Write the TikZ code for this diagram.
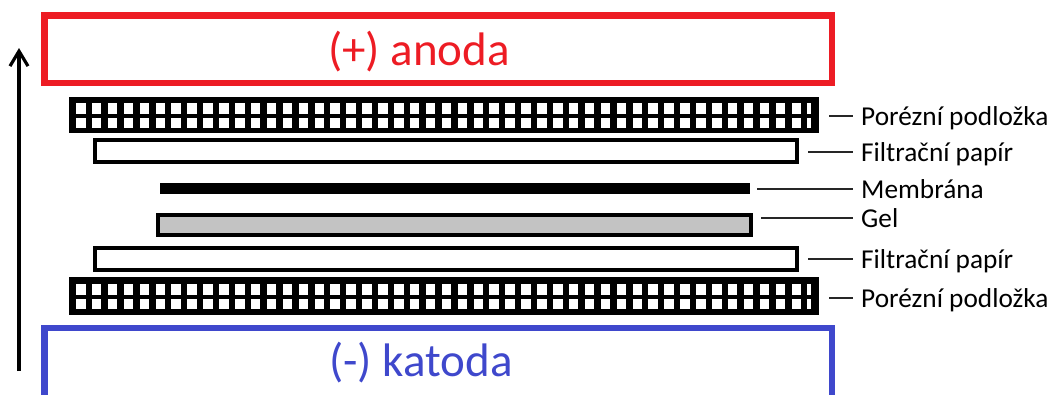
\documentclass[tikz,border=0pt]{standalone}
\usepackage{fontspec}
\setmainfont{Carlito}
\usetikzlibrary{arrows.meta}
\definecolor{anodered}{HTML}{ED1C24}
\definecolor{katblue}{HTML}{3F48CC}
\definecolor{gelgray}{HTML}{C3C3C3}
\begin{document}
\begin{tikzpicture}[x=1pt,y=-1pt,
  electrode/.style={draw, line width=6.5pt, inner sep=0pt, minimum width=787.5pt},
  bigtext/.style={font=\fontsize{47}{52}\selectfont, inner sep=0pt, anchor=base},
  porous/.style={fill=black, inner sep=0pt, minimum width=750pt},
  paper/.style={draw=black, fill=white, line width=4pt, inner sep=0pt, minimum width=702pt, minimum height=22pt},
  membrane/.style={fill=black, inner sep=0pt, minimum width=590pt, minimum height=11pt},
  gelbox/.style={draw=black, fill=gelgray, line width=4pt, inner sep=0pt, minimum width=593pt, minimum height=20pt},
  lbl/.style={font=\fontsize{27.3}{31}\selectfont, anchor=base west, inner xsep=8pt, inner ysep=0pt},
  leader/.style={line width=1.5pt, draw=black!85},
  hole/.style={fill=white}
]
\useasboundingbox (0,0) rectangle (1056,394);
\clip (0,0) rectangle (1056,394);

% electrodes
\node[electrode, draw=anodered, minimum height=67.5pt] (anode) at (438.25,49.25) {};
\node[bigtext, text=anodered] (atext) at (419,65) {(+) anoda};
\node[electrode, draw=katblue, minimum height=92pt] (kathode) at (438.25,374) {};
\node[bigtext, text=katblue] (ktext) at (421,376) {(-) katoda};

% arrow
\coordinate (arrS) at (19,371);
\coordinate (arrE) at (19,48);
\draw[line width=3.2pt, -{Straight Barb[length=15pt,width=18pt]}] (arrS) -- (arrE);

% porous supports
\node[porous, minimum height=36pt] (ptop) at (444,115) {};
\foreach \k in {0,...,45} {
  \fill[hole] ({76+15.9*\k},103) rectangle +(9.5,11);
  \fill[hole] ({76+15.9*\k},118) rectangle +(9.5,10);
}
\fill[hole] (807.4,103) rectangle (811,114);
\fill[hole] (807.4,118) rectangle (811,128);

\node[porous, minimum height=38pt] (pbot) at (444,296) {};
\foreach \k in {0,...,45} {
  \fill[hole] ({76+15.9*\k},284) rectangle +(9.5,11);
  \fill[hole] ({76+15.9*\k},299) rectangle +(9.5,10);
}
\fill[hole] (807.4,284) rectangle (811,295);
\fill[hole] (807.4,299) rectangle (811,309);

% papers, membrane, gel
\node[paper] (ftop) at (446,151) {};
\node[membrane] (mem) at (455,188.5) {};
\node[gelbox] (gel) at (454.5,225) {};
\node[paper] (fbot) at (446,259) {};

% labels (baseline 9pt below leader line)
\node[lbl] (lptop) at (853,125) {Porézní podložka};
\node[lbl] (lftop) at (853,161) {Filtrační papír};
\node[lbl] (lmem) at (853,198) {Membrána};
\node[lbl] (lgel) at (853,227) {Gel};
\node[lbl] (lfbot) at (853,268) {Filtrační papír};
\node[lbl] (lpbot) at (853,307) {Porézní podložka};

\draw[leader] ([xshift=10pt,yshift=9pt]ptop.east |- lptop.base west) -- ([yshift=9pt]lptop.base west);
\draw[leader] ([xshift=9pt,yshift=9pt]ftop.east |- lftop.base west) -- ([yshift=9pt]lftop.base west);
\draw[leader] ([xshift=7pt,yshift=9pt]mem.east |- lmem.base west) -- ([yshift=9pt]lmem.base west);
\draw[leader] ([xshift=8pt,yshift=9pt]gel.east |- lgel.base west) -- ([yshift=9pt]lgel.base west);
\draw[leader] ([xshift=9pt,yshift=9pt]fbot.east |- lfbot.base west) -- ([yshift=9pt]lfbot.base west);
\draw[leader] ([xshift=10pt,yshift=9pt]pbot.east |- lpbot.base west) -- ([yshift=9pt]lpbot.base west);
\end{tikzpicture}
\end{document}
